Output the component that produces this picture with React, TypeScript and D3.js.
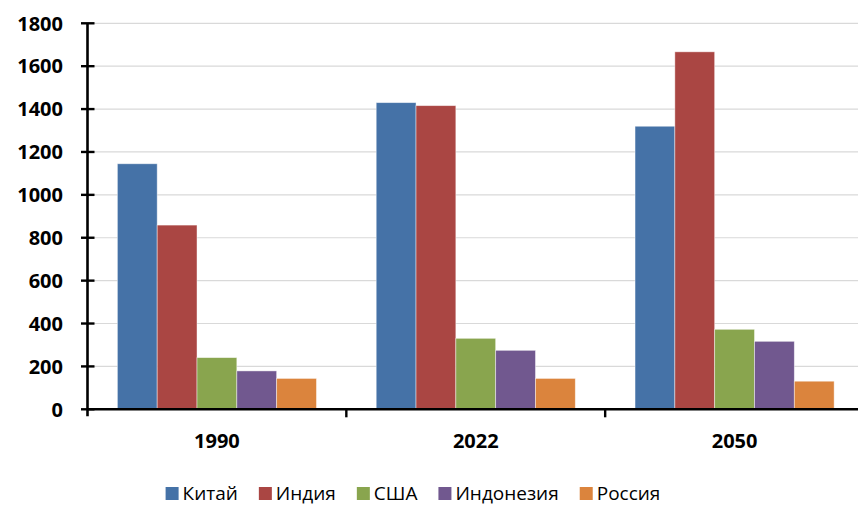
import { useEffect, useRef } from "react";
import * as d3 from "d3";

const years = ["1990", "2022", "2050"];
const countries = ["Китай", "Индия", "США", "Индонезия", "Россия"];
const colors = ["#4572A7", "#AA4643", "#89A54E", "#71588F", "#DB843D"];
// population, mln — one array per country, in year order
const china = [1145, 1430, 1320];
const india = [859, 1416, 1667];
const usa = [241, 331, 373];
const indonesia = [179, 275, 317];
const russia = [144, 144, 131];
const yTicks = [0, 200, 400, 600, 800, 1000, 1200, 1400, 1600, 1800];

const W = 858;
const H = 506;
const FONT = "'Open Sans', 'Liberation Sans', Arial, sans-serif";

export default function App() {
  const ref = useRef<SVGSVGElement | null>(null);

  useEffect(() => {
    const svgEl = ref.current;
    if (!svgEl) return;
    const svg = d3.select(svgEl);
    svg.selectAll("*").remove();

    const series = [china, india, usa, indonesia, russia];
    const left = 87.5;
    const right = 864;
    const top = 23.3;
    const bottom = 409.3;

    const x0 = d3.scaleBand<string>().domain(years).range([left, right]);
    const x1 = d3
      .scaleBand<string>()
      .domain(countries)
      .range([0, x0.bandwidth()])
      .paddingInner(0)
      .paddingOuter(0.75);
    const y = d3.scaleLinear().domain([0, 1800]).range([bottom, top]);

    // gridlines
    svg
      .append("g")
      .selectAll("line")
      .data(yTicks.filter((t) => t > 0))
      .join("line")
      .attr("x1", left)
      .attr("x2", W)
      .attr("y1", (d) => y(d))
      .attr("y2", (d) => y(d))
      .attr("stroke", "#d9d9d9")
      .attr("stroke-width", 1.2);

    // bars
    const groups = svg
      .append("g")
      .selectAll("g")
      .data(years)
      .join("g")
      .attr("transform", (d) => `translate(${x0(d)},0)`);

    groups
      .selectAll("rect")
      .data((_yr, i) => countries.map((c, k) => ({ c, k, v: series[k][i] })))
      .join("rect")
      .attr("x", (d) => x1(d.c) ?? 0)
      .attr("width", x1.bandwidth())
      .attr("y", (d) => y(d.v))
      .attr("height", (d) => bottom - y(d.v))
      .attr("fill", (d) => colors[d.k])
      .attr("stroke", "rgba(255,255,255,0.55)")
      .attr("stroke-width", 0.8);

    // y axis
    const yAxis = svg.append("g");
    yAxis
      .append("line")
      .attr("x1", left)
      .attr("x2", left)
      .attr("y1", top)
      .attr("y2", bottom + 7)
      .attr("stroke", "#000")
      .attr("stroke-width", 2.6);
    yAxis
      .selectAll("line.tick")
      .data(yTicks)
      .join("line")
      .attr("class", "tick")
      .attr("x1", left - 6.5)
      .attr("x2", left + 7)
      .attr("y1", (d) => y(d))
      .attr("y2", (d) => y(d))
      .attr("stroke", "#000")
      .attr("stroke-width", 2.4);
    yAxis
      .selectAll("text")
      .data(yTicks)
      .join("text")
      .attr("x", 63)
      .attr("y", (d) => y(d))
      .attr("dy", "0.36em")
      .attr("text-anchor", "end")
      .style("font", `bold 20px ${FONT}`)
      .attr("fill", "#000")
      .text((d) => d);

    // x axis
    const xAxis = svg.append("g");
    xAxis
      .append("line")
      .attr("x1", left)
      .attr("x2", W)
      .attr("y1", bottom)
      .attr("y2", bottom)
      .attr("stroke", "#000")
      .attr("stroke-width", 2.6);
    xAxis
      .selectAll("line.tick")
      .data(years.slice(1))
      .join("line")
      .attr("class", "tick")
      .attr("x1", (d) => x0(d) ?? 0)
      .attr("x2", (d) => x0(d) ?? 0)
      .attr("y1", bottom)
      .attr("y2", bottom + 8)
      .attr("stroke", "#000")
      .attr("stroke-width", 2.4);
    xAxis
      .selectAll("text")
      .data(years)
      .join("text")
      .attr("x", (d) => (x0(d) ?? 0) + x0.bandwidth() / 2)
      .attr("y", 448)
      .attr("text-anchor", "middle")
      .style("font", `bold 20px ${FONT}`)
      .attr("fill", "#000")
      .text((d) => d);

    // legend
    const legend = svg.append("g");
    const sq = 13;
    const textGap = 4;
    const itemGap = 21;
    const items = legend
      .selectAll("g")
      .data(countries)
      .join("g");
    items
      .append("rect")
      .attr("width", sq)
      .attr("height", sq)
      .attr("y", 487)
      .attr("fill", (_d, i) => colors[i]);
    const labels = items
      .append("text")
      .attr("x", sq + textGap)
      .attr("y", 493.5)
      .attr("dy", "0.36em")
      .style("font", `19px ${FONT}`)
      .attr("fill", "#000")
      .text((d) => d);
    const widths: number[] = [];
    labels.each(function () {
      widths.push((this as SVGTextElement).getComputedTextLength());
    });
    const total =
      d3.sum(widths) + countries.length * (sq + textGap) + (countries.length - 1) * itemGap;
    let cx = 413 - total / 2;
    items.attr("transform", (_d, i) => {
      const t = `translate(${cx},0)`;
      cx += sq + textGap + widths[i] + itemGap;
      return t;
    });
  }, []);

  return (
    <svg
      ref={ref}
      width={W}
      height={H}
      style={{ position: "absolute", left: 0, top: 0, background: "#fff" }}
    />
  );
}
